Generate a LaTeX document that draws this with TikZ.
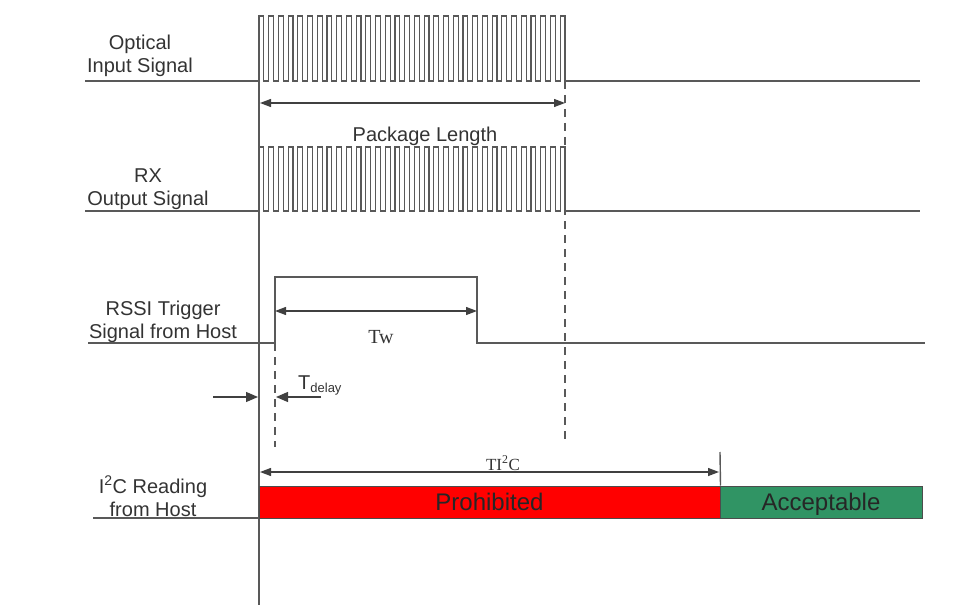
\documentclass[tikz,border=0pt]{standalone}
\usepackage{fontspec}
\setmainfont{Liberation Sans}
\newfontfamily\tmsfont{Liberation Serif}
\usetikzlibrary{arrows.meta}
\definecolor{okgreen}{RGB}{48,148,100}
\begin{document}
\begin{tikzpicture}[x=1pt, y=-1pt, font=\fontsize{20}{23}\selectfont]
	\useasboundingbox (0,0) rectangle (980,607);
	\tikzset{
		sig/.style={line width=1.4pt, draw=black!65},
		pulse/.style={line width=1.1pt, draw=black!65},
		guide/.style={line width=1.3pt, draw=black!65, dash pattern=on 8pt off 6pt},
		dim/.style={line width=1.3pt, draw=black!75, {Triangle[length=11pt,width=8pt]}-{Triangle[length=11pt,width=8pt]}},
		pointer/.style={line width=1.3pt, draw=black!75, -{Triangle[length=12pt,width=10pt]}},
		lbl/.style={align=center, text=black!80, inner sep=0pt, anchor=base},
		bar/.style={draw=black!70, line width=1pt, minimum height=32pt, inner sep=0pt, text height=17pt, text depth=0pt, text=black!85, font=\fontsize{24}{28}\selectfont}
	}
	% time zero
	\coordinate (t0top) at (259,15);
	\coordinate (t0bot) at (259,605);
	\draw[sig] (t0top) -- (t0bot);
	% optical input
	\node[lbl] (optlbl) at (140,73) {Optical\\Input Signal};
	\coordinate (optstart) at (85,81);
	\coordinate (optend) at (920,81);
	\draw[sig] (optstart) -- (259,81);
	\draw[pulse] (259,81)
		\foreach \i in {1,...,31}{ -- ++(0,-65) -- ++(4.857,0) -- ++(0,65) -- ++(4.857,0)}
		-- ++(0,-65) -- ++(4.857,0) -- ++(0,65) -- (565,81);
	\draw[sig] (565,81) -- (optend);
	% package length
	\coordinate (pkga) at (260,103);
	\coordinate (pkgb) at (565,103);
	\draw[dim] (pkga) -- (pkgb);
	\node[lbl] (pkglbl) at (425,142) {Package Length};
	% rx output
	\node[lbl] (rxlbl) at (148,205) {RX\\Output Signal};
	\coordinate (rxstart) at (85,211);
	\coordinate (rxend) at (920,211);
	\draw[sig] (rxstart) -- (259,211);
	\draw[pulse] (259,211)
		\foreach \i in {1,...,31}{ -- ++(0,-64) -- ++(4.857,0) -- ++(0,64) -- ++(4.857,0)}
		-- ++(0,-64) -- ++(4.857,0) -- ++(0,64) -- (565,211);
	\draw[sig] (565,211) -- (rxend);
	% rssi trigger
	\node[lbl] (rssilbl) at (163,338) {RSSI Trigger\\Signal from Host};
	\coordinate (rssistart) at (88,343);
	\coordinate (rssiup) at (275,343);
	\coordinate (rssidown) at (477,343);
	\coordinate (rssiend) at (925,343);
	\draw[sig] (rssistart) -- (rssiup) -- (275,277) -- (477,277) -- (rssidown) -- (rssiend);
	\coordinate (twa) at (275,311);
	\coordinate (twb) at (477,311);
	\draw[dim] (twa) -- (twb);
	\node[lbl, font=\tmsfont\fontsize{20}{24}\selectfont] (twlbl) at (381,343) {Tw};
	% guides
	\coordinate (pkgend) at (565,81);
	\coordinate (pkgguide) at (565,443);
	\draw[guide] (pkgend) -- (pkgguide);
	\coordinate (delguide) at (275,447);
	\draw[guide] (rssiup) -- (delguide);
	% t delay
	\coordinate (dela) at (213,397);
	\coordinate (delb) at (258,397);
	\coordinate (delc) at (321,397);
	\coordinate (deld) at (276,397);
	\draw[pointer] (dela) -- (delb);
	\draw[pointer] (delc) -- (deld);
	\node[lbl, anchor=base west] (dellbl) at (298,389) {T\raisebox{-0.3ex}{\fontsize{13}{13}\selectfont delay}};
	% i2c reading
	\node[lbl] (i2clbl) at (153,516) {I\textsuperscript{2}C Reading\\from Host};
	\coordinate (i2cstart) at (93,518);
	\draw[sig] (i2cstart) -- (259,518);
	\node[bar, fill=red, minimum width=461pt] (prohib) at (489.5,502) {Prohibited};
	\node[bar, fill=okgreen, minimum width=202pt] (accept) at (821,502) {Acceptable};
	\coordinate (i2ca) at (260,472);
	\coordinate (i2cb) at (719,472);
	\draw[dim] (i2ca) -- (i2cb);
	\coordinate (i2ctick) at (720,452);
	\draw[sig] (i2ctick) -- (prohib.north east);
	\node[lbl, font=\tmsfont\fontsize{17}{20}\selectfont] (ti2clbl) at (503,470) {TI\textsuperscript{2}C};
\end{tikzpicture}
\end{document}
